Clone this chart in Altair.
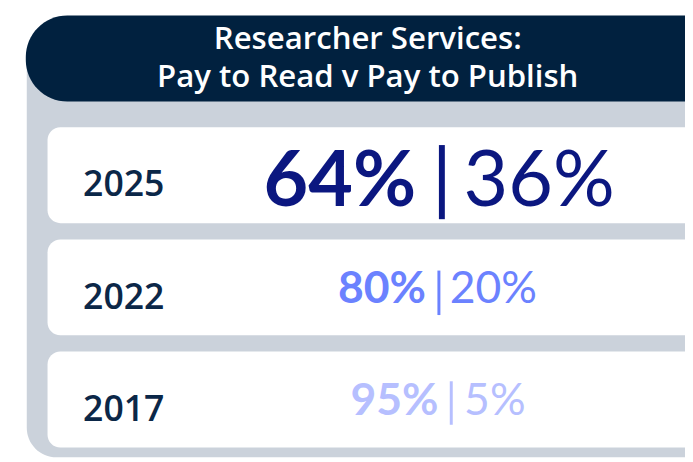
import altair as alt
import pandas as pd

# ---- data ----
title_lines = ["Researcher Services:", "Pay to Read v Pay to Publish"]
years = ["2025", "2022", "2017"]
pay_to_read = [64, 80, 95]
pay_to_publish = [36, 20, 5]
row_colors = ["#0b1780", "#6b82ff", "#b6bfff"]

# ---- layout (chart pixel units) ----
W, H = 685, 454
navy = "#01213f"
grey = "#cbd2db"
year_color = "#0b2748"

card_top0, card_pitch, card_h = 118, 113.5, 97
value_size = [78, 45, 45]
sep_x = [439, 436, 448.5]
sep_half = [37.5, 22.5, 22]
sep_mid_off = [55.5, 54, 52]
sep_w = [6, 3, 3]
gap_left = [26, 13, 13]
gap_right = [22, 11, 13]
value_base_off = [80, 64, 64]

rows = []
for i, yr in enumerate(years):
    top = card_top0 + i * card_pitch
    rows.append(dict(
        idx=i,
        year=yr,
        read=f"{pay_to_read[i]}%",
        pub=f"{pay_to_publish[i]}%",
        col=row_colors[i],
        fs=value_size[i],
        sw=sep_w[i],
        top=top,
        bottom=top + card_h,
        card_x=40,
        card_x2=720,
        year_x=76,
        year_y=top + 70,
        sx=sep_x[i],
        sy=top + sep_mid_off[i] - sep_half[i],
        sy2=top + sep_mid_off[i] + sep_half[i],
        lx=sep_x[i] - gap_left[i],
        rx=sep_x[i] + gap_right[i],
        vy=top + value_base_off[i],
    ))
rows = pd.DataFrame(rows)

xs = alt.Scale(domain=[0, W], range=[0, W], nice=False, zero=False)
ys = alt.Scale(domain=[0, H], range=[0, H], nice=False, zero=False)


def X(f):
    return alt.X(f, type="quantitative", scale=xs, axis=None)


def Y(f):
    return alt.Y(f, type="quantitative", scale=ys, axis=None)


panel = pd.DataFrame([dict(x=19, x2=720, y=45, y2=452)])
header = pd.DataFrame([dict(x=18, x2=720, y=5, y2=92)])
titles = pd.DataFrame([dict(t=title_lines[0], x=364, y=29.5),
                       dict(t=title_lines[1], x=364, y=68.5)])

base = alt.Chart(rows)

grey_panel = alt.Chart(panel).mark_rect(
    fill=grey, cornerRadiusBottomLeft=30, clip=True
).encode(x=X("x"), x2="x2", y=Y("y"), y2="y2")

header_bar = alt.Chart(header).mark_rect(
    fill=navy, cornerRadiusTopLeft=42, cornerRadiusBottomLeft=42, clip=True
).encode(x=X("x"), x2="x2", y=Y("y"), y2="y2")

title_text = alt.Chart(titles).mark_text(
    font="Open Sans", fontSize=31.5, fontWeight=600, color="white",
    align="center", baseline="middle"
).encode(x=X("x"), y=Y("y"), text="t:N")

cards = base.mark_rect(fill="white", cornerRadius=13, clip=True).encode(
    x=X("card_x"), x2="card_x2", y=Y("top"), y2="bottom"
)

year_text = base.mark_text(
    font="Open Sans", fontSize=36, fontWeight=600, color=year_color,
    align="left", baseline="alphabetic"
).encode(x=X("year_x"), y=Y("year_y"), text="year:N")

seps = base.mark_rule().encode(
    x=X("sx"), y=Y("sy"), y2="sy2",
    color=alt.Color("col:N", scale=None),
    strokeWidth=alt.StrokeWidth("sw:Q", scale=None),
)

left_vals = base.mark_text(
    font="Lato", fontWeight=700, align="right", baseline="alphabetic"
).encode(
    x=X("lx"), y=Y("vy"), text="read:N",
    color=alt.Color("col:N", scale=None),
    size=alt.Size("fs:Q", scale=None),
)

right_vals = base.mark_text(
    font="Lato", fontWeight=400, align="left", baseline="alphabetic"
).encode(
    x=X("rx"), y=Y("vy"), text="pub:N",
    color=alt.Color("col:N", scale=None),
    size=alt.Size("fs:Q", scale=None),
)

chart = alt.layer(
    grey_panel, header_bar, title_text, cards, year_text, seps,
    left_vals, right_vals
).properties(
    width=W, height=H, padding=0, autosize=alt.AutoSizeParams(type="none"),
    background="white"
).configure_view(stroke=None)

chart.save("out.html", embed_options={"renderer": "svg", "actions": False})
